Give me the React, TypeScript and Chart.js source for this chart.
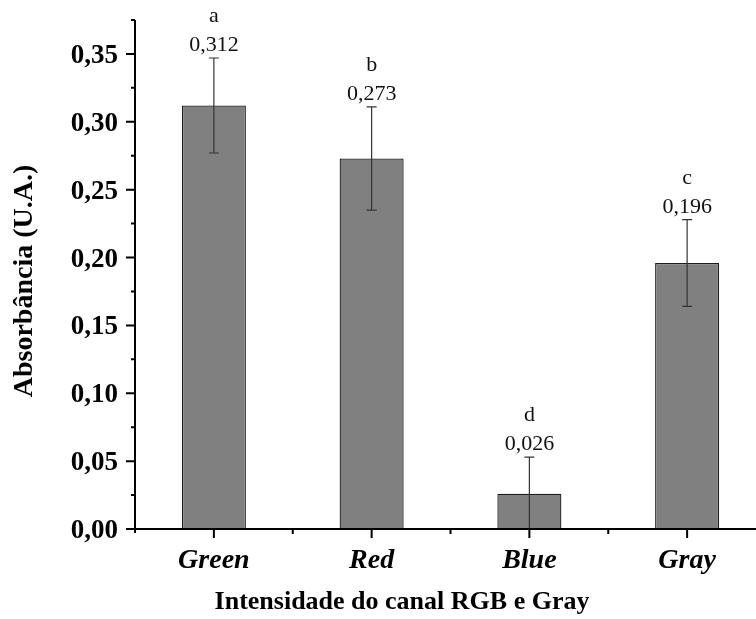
import { useEffect, useRef } from 'react';
import { Chart, registerables } from 'chart.js';

Chart.register(...registerables);

// Mean absorbance per colour channel, with standard deviation and group letters
const categories = ['Green', 'Red', 'Blue', 'Gray'];
const absorbance = [0.312, 0.273, 0.026, 0.196];
const deviation = [0.035, 0.038, 0.027, 0.032];
const groupLetters = ['a', 'b', 'd', 'c'];

const yMin = 0;
const yMax = 0.375;
const yStep = 0.05;

const xTitle = 'Intensidade do canal RGB e Gray';
const yTitle = 'Absorbância (U.A.)';

const SERIF = '"Liberation Serif", "Times New Roman", serif';
const CANVAS_W = 780;
const CANVAS_H = 619;

const fmt = (v: number, digits: number) => v.toFixed(digits).replace('.', ',');

const decorations = {
  id: 'decorations',
  afterDatasetsDraw(chart: any) {
    const { ctx } = chart;
    const x = chart.scales.x;
    const y = chart.scales.y;
    ctx.save();
    // error bars
    ctx.strokeStyle = '#333';
    ctx.lineWidth = 1.2;
    absorbance.forEach((v, i) => {
      const px = x.getPixelForValue(i);
      const top = y.getPixelForValue(v + deviation[i]);
      const bot = y.getPixelForValue(Math.max(0, v - deviation[i]));
      ctx.beginPath();
      ctx.moveTo(px, top);
      ctx.lineTo(px, bot);
      ctx.moveTo(px - 5, top);
      ctx.lineTo(px + 5, top);
      if (v - deviation[i] > 0) {
        ctx.moveTo(px - 5, bot);
        ctx.lineTo(px + 5, bot);
      }
      ctx.stroke();
      // value and letter labels
      ctx.fillStyle = '#111';
      ctx.textAlign = 'center';
      ctx.textBaseline = 'alphabetic';
      ctx.font = `22px ${SERIF}`;
      ctx.fillText(fmt(v, 3), px, top - 7);
      ctx.fillText(groupLetters[i], px, top - 36);
    });
    ctx.restore();
  },
  afterDraw(chart: any) {
    const { ctx, chartArea } = chart;
    const x = chart.scales.x;
    const y = chart.scales.y;
    const left = chartArea.left;
    const bottom = chartArea.bottom;
    ctx.save();
    ctx.strokeStyle = '#000';
    ctx.lineWidth = 2;
    ctx.lineCap = 'butt';
    // axis lines
    ctx.beginPath();
    ctx.moveTo(left, chartArea.top);
    ctx.lineTo(left, bottom + 4);
    ctx.moveTo(left - 9, bottom);
    ctx.lineTo(chartArea.right, bottom);
    ctx.stroke();
    // y ticks: major every step, minor halfway
    ctx.beginPath();
    for (let k = 0; k * (yStep / 2) <= yMax + 1e-9; k++) {
      const py = y.getPixelForValue(k * (yStep / 2));
      const len = k % 2 === 0 ? 9 : 4;
      ctx.moveTo(left - len, py);
      ctx.lineTo(left, py);
    }
    // x ticks: major at category centres, minor at boundaries
    for (let i = 0; i < categories.length; i++) {
      const pc = x.getPixelForValue(i);
      ctx.moveTo(pc, bottom);
      ctx.lineTo(pc, bottom + 9);
      const pb = x.getPixelForValue(i + 0.5);
      ctx.moveTo(pb, bottom);
      ctx.lineTo(pb, bottom + 5);
    }
    ctx.stroke();
    // axis titles
    ctx.fillStyle = '#000';
    ctx.font = `bold 26px ${SERIF}`;
    ctx.textAlign = 'center';
    ctx.textBaseline = 'alphabetic';
    ctx.fillText(xTitle, 402, 609);
    ctx.translate(25, 281);
    ctx.rotate(-Math.PI / 2);
    ctx.font = `bold 28px ${SERIF}`;
    ctx.textBaseline = 'middle';
    ctx.fillText(yTitle, 0, 0);
    ctx.restore();
  },
};

export default function App() {
  const canvasRef = useRef<HTMLCanvasElement | null>(null);

  useEffect(() => {
    if (!canvasRef.current) return;
    const chart = new Chart(canvasRef.current, {
      type: 'bar',
      data: {
        labels: categories,
        datasets: [
          {
            data: absorbance,
            backgroundColor: '#808080',
            borderColor: '#1c1c1c',
            borderWidth: 1.3,
            categoryPercentage: 1,
            barPercentage: 0.406,
          },
        ],
      },
      options: {
        animation: false,
        responsive: false,
        devicePixelRatio: 1,
        layout: { padding: { left: 0, top: 20, right: CANVAS_W - 766, bottom: 0 } },
        plugins: {
          legend: { display: false },
          tooltip: { enabled: false },
        },
        scales: {
          x: {
            type: 'category',
            offset: true,
            grid: { display: false, drawTicks: false },
            border: { display: false },
            ticks: {
              color: '#000',
              padding: 15,
              font: { family: SERIF, size: 28, weight: 'bold', style: 'italic' },
            },
            afterFit: (s: any) => {
              s.height = 90;
              s.paddingLeft = 0;
              s.paddingRight = 0;
            },
          },
          y: {
            min: yMin,
            max: yMax,
            grid: { display: false, drawTicks: false },
            border: { display: false },
            ticks: {
              stepSize: yStep,
              includeBounds: false,
              color: '#000',
              padding: 17,
              labelOffset: 2,
              font: { family: SERIF, size: 27, weight: 'bold' },
              callback: (v: any) => fmt(Number(v), 2),
            },
            afterFit: (s: any) => {
              s.width = 135;
              s.paddingTop = 0;
              s.paddingBottom = 0;
            },
          },
        },
      },
      plugins: [decorations],
    });
    return () => chart.destroy();
  }, []);

  return (
    <div style={{ position: 'absolute', left: 0, top: 0, width: 756, height: CANVAS_H, overflow: 'hidden', background: '#fff' }}>
      <canvas ref={canvasRef} width={CANVAS_W} height={CANVAS_H} style={{ display: 'block', width: CANVAS_W, height: CANVAS_H }} />
    </div>
  );
}
